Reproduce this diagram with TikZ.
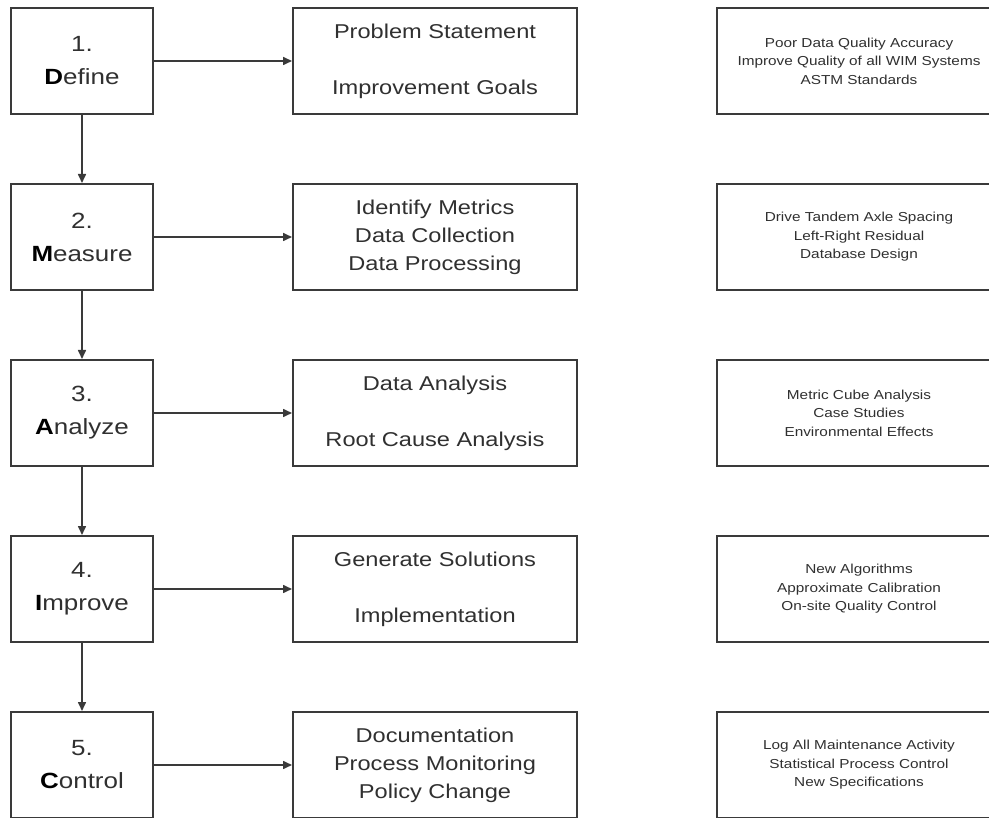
\documentclass[tikz,border=0pt]{standalone}
\usepackage{fontspec}
\setmainfont{Liberation Sans}[FakeStretch=1.18]
\usetikzlibrary{arrows.meta}
\definecolor{linec}{HTML}{3A3A3A}
\definecolor{textc}{HTML}{303030}
\begin{document}
\begin{tikzpicture}[x=1pt,y=-1pt,
  basebox/.style={draw=linec, line width=2pt, fill=white, minimum height=106pt, inner sep=0pt, align=center, text=textc},
  lbox/.style={basebox, minimum width=142pt, font=\fontsize{22}{33}\selectfont},
  mbox/.style={basebox, minimum width=284pt, font=\fontsize{20}{28}\selectfont},
  rbox/.style={basebox, minimum width=284pt, font=\fontsize{13}{18.5}\selectfont},
  arr/.style={draw=linec, line width=1.6pt, -{Triangle[length=9pt,width=8pt]}}]
\useasboundingbox (0,0) rectangle (989,818);
\clip (0,0) rectangle (989,818);
\fill[white] (0,0) rectangle (989,818);
% left column
\node[lbox] (d1) at (82,61)  {1.\\\textcolor{black}{\textbf{D}}efine};
\node[lbox] (d2) at (82,237) {2.\\\textcolor{black}{\textbf{M}}easure};
\node[lbox] (d3) at (82,413) {3.\\\textcolor{black}{\textbf{A}}nalyze};
\node[lbox] (d4) at (82,589) {4.\\\textcolor{black}{\textbf{I}}mprove};
\node[lbox] (d5) at (82,765) {5.\\\textcolor{black}{\textbf{C}}ontrol};
% middle column
\node[mbox] (m1) at (435,61)  {Problem Statement\\~\\Improvement Goals};
\node[mbox] (m2) at (435,237) {Identify Metrics\\Data Collection\\Data Processing};
\node[mbox] (m3) at (435,413) {Data Analysis\\~\\Root Cause Analysis};
\node[mbox] (m4) at (435,589) {Generate Solutions\\~\\Implementation};
\node[mbox] (m5) at (435,765) {Documentation\\Process Monitoring\\Policy Change};
% right column
\node[rbox] (r1) at (859,61)  {Poor Data Quality Accuracy\\Improve Quality of all WIM Systems\\ASTM Standards};
\node[rbox] (r2) at (859,237) {Drive Tandem Axle Spacing\\Left-Right Residual\\Database Design};
\node[rbox] (r3) at (859,413) {Metric Cube Analysis\\Case Studies\\Environmental Effects};
\node[rbox] (r4) at (859,589) {New Algorithms\\Approximate Calibration\\On-site Quality Control};
\node[rbox] (r5) at (859,765) {Log All Maintenance Activity\\Statistical Process Control\\New Specifications};
% connectors
\foreach \i in {1,...,5} { \draw[arr] (d\i) -- (m\i); }
\draw[arr] (d1) -- (d2);
\draw[arr] (d2) -- (d3);
\draw[arr] (d3) -- (d4);
\draw[arr] (d4) -- (d5);
\end{tikzpicture}
\end{document}
